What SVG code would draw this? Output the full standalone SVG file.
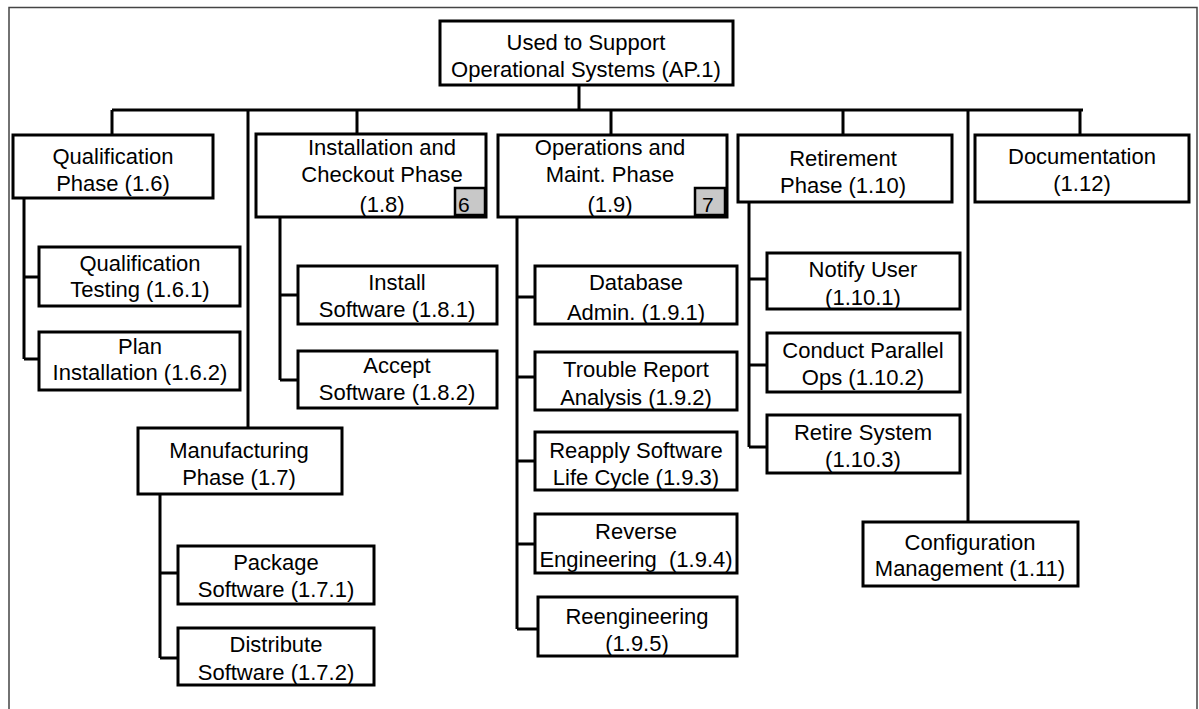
<svg xmlns="http://www.w3.org/2000/svg" width="1199" height="709" viewBox="0 0 1199 709">
<style>
.box{fill:#fff;stroke:#000;stroke-width:3}
.tag{fill:#c8c8c8;stroke:#000;stroke-width:2.5}
.ln{fill:none;stroke:#000;stroke-width:3}
text{font-family:"Liberation Sans",Arial,sans-serif;font-size:22px;fill:#000;text-anchor:middle}
.tg{text-anchor:start;font-size:21px}
</style>
<rect x="0" y="0" width="1199" height="709" fill="#fff"/>
<rect x="9" y="7.5" width="1188" height="720" fill="none" stroke="#444" stroke-width="1.5"/>
<g id="connectors" class="ln">
<path d="M579 85V110M112 110H1083M112 110V135M248 110V428M357 110V134M611 110V135M843 110V135M968 110V522M1080 110V135"/>
<path d="M24 198V359M24 277H39M24 359H39"/>
<path d="M280 217V380M280 295H298M280 380H298"/>
<path d="M160 494V658M160 573H178M160 658H178"/>
<path d="M517 217V629M517 297H535M517 377H535M517 461H535M517 544H535M517 629H538"/>
<path d="M749 202V447M749 279H767M749 365H767M749 447H767"/>
</g>
<g id="root"><rect class="box" x="440" y="21" width="293" height="64"/><text x="586" y="50">Used to Support</text><text x="586" y="77">Operational Systems (AP.1)</text></g>
<g id="n16"><rect class="box" x="13" y="135" width="200" height="63"/><text x="113" y="164">Qualification</text><text x="113" y="191">Phase (1.6)</text></g>
<g id="n161"><rect class="box" x="39" y="247" width="201" height="59"/><text x="140" y="271">Qualification</text><text x="140" y="297">Testing (1.6.1)</text></g>
<g id="n162"><rect class="box" x="39" y="332" width="201" height="58"/><text x="140" y="354">Plan</text><text x="140" y="380">Installation (1.6.2)</text></g>
<g id="n17"><rect class="box" x="138" y="428" width="204" height="66"/><text x="239" y="458">Manufacturing</text><text x="239" y="485">Phase (1.7)</text></g>
<g id="n171"><rect class="box" x="178" y="546" width="196" height="58"/><text x="276" y="570">Package</text><text x="276" y="597">Software (1.7.1)</text></g>
<g id="n172"><rect class="box" x="178" y="628" width="196" height="57"/><text x="276" y="652">Distribute</text><text x="276" y="680">Software (1.7.2)</text></g>
<g id="n18"><rect class="box" x="256" y="134" width="230" height="83"/><text x="382" y="155">Installation and</text><text x="382" y="182">Checkout Phase</text><text x="382" y="212">(1.8)</text><rect class="tag" x="455" y="188" width="30" height="27"/><text class="tg" x="458" y="212">6</text></g>
<g id="n181"><rect class="box" x="298" y="266" width="199" height="58"/><text x="397" y="290">Install</text><text x="397" y="317">Software (1.8.1)</text></g>
<g id="n182"><rect class="box" x="298" y="351" width="199" height="57"/><text x="397" y="373">Accept</text><text x="397" y="400">Software (1.8.2)</text></g>
<g id="n19"><rect class="box" x="498" y="135" width="229" height="82"/><text x="610" y="155">Operations and</text><text x="610" y="182">Maint. Phase</text><text x="610" y="212">(1.9)</text><rect class="tag" x="695" y="188" width="30" height="27"/><text class="tg" x="702" y="212">7</text></g>
<g id="n191"><rect class="box" x="535" y="266" width="202" height="58"/><text x="636" y="290">Database</text><text x="636" y="320">Admin. (1.9.1)</text></g>
<g id="n192"><rect class="box" x="535" y="352" width="202" height="58"/><text x="636" y="377">Trouble Report</text><text x="636" y="405">Analysis (1.9.2)</text></g>
<g id="n193"><rect class="box" x="535" y="432" width="202" height="58"/><text x="636" y="458">Reapply Software</text><text x="636" y="485">Life Cycle (1.9.3)</text></g>
<g id="n194"><rect class="box" x="535" y="514" width="202" height="59"/><text x="636" y="539">Reverse</text><text x="636" y="567" xml:space="preserve">Engineering  (1.9.4)</text></g>
<g id="n195"><rect class="box" x="538" y="597" width="199" height="59"/><text x="637" y="624">Reengineering</text><text x="637" y="651">(1.9.5)</text></g>
<g id="n110"><rect class="box" x="738" y="135" width="214" height="67"/><text x="843" y="166">Retirement</text><text x="843" y="193">Phase (1.10)</text></g>
<g id="n1101"><rect class="box" x="767" y="253" width="193" height="56"/><text x="863" y="277">Notify User</text><text x="863" y="305">(1.10.1)</text></g>
<g id="n1102"><rect class="box" x="767" y="333" width="193" height="59"/><text x="863" y="358">Conduct Parallel</text><text x="863" y="385">Ops (1.10.2)</text></g>
<g id="n1103"><rect class="box" x="767" y="415" width="193" height="58"/><text x="863" y="440">Retire System</text><text x="863" y="467">(1.10.3)</text></g>
<g id="n111"><rect class="box" x="863" y="522" width="215" height="64"/><text x="970" y="550">Configuration</text><text x="970" y="576">Management (1.11)</text></g>
<g id="n112"><rect class="box" x="975" y="135" width="214" height="67"/><text x="1082" y="164">Documentation</text><text x="1082" y="191">(1.12)</text></g>
</svg>
